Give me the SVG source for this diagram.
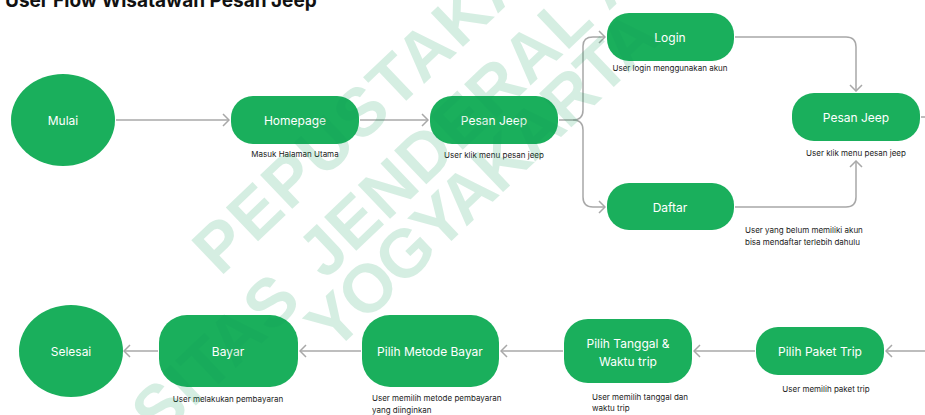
<svg xmlns="http://www.w3.org/2000/svg" width="925" height="415" viewBox="0 0 925 415">
<defs>
<style>
.node{fill:#1aaf5c}
.nt{fill:#ffffff;font-family:Inter,"Liberation Sans",sans-serif;font-size:12px;font-weight:400;text-anchor:middle;dominant-baseline:central}
.lb{fill:#222222;font-family:Inter,"Liberation Sans",sans-serif;font-size:8px}
.c{fill:none;stroke:#a8a8a8;stroke-width:1.5}
.wm{fill:#0f9d58;opacity:0.17;font-family:"Liberation Sans",Arial,sans-serif;font-weight:bold;font-size:68px}
</style>
<marker id="arr" viewBox="0 0 8 14" refX="7" refY="7" markerWidth="8" markerHeight="14" markerUnits="userSpaceOnUse" orient="auto">
<path d="M1,1 L7,7 L1,13" fill="none" stroke="#a8a8a8" stroke-width="1.5"/>
</marker>
</defs>
<rect width="925" height="415" fill="#ffffff"/>
<text x="5" y="7" font-family="Inter,'Liberation Sans',sans-serif" font-weight="bold" font-size="19" fill="#111111">User Flow Wisatawan Pesan Jeep</text>

<g id="connectors">
<path class="c" d="M116,120 H229" marker-end="url(#arr)"/>
<path class="c" d="M360,120 H428" marker-end="url(#arr)"/>
<path class="c" d="M559,120 H573 Q583,120 583,110 V46 Q583,37 593,37 H605" marker-end="url(#arr)"/>
<path class="c" d="M573,120 Q583,120 583,130 V197 Q583,207 593,207 H605" marker-end="url(#arr)"/>
<path class="c" d="M735,37 H846 Q856,37 856,47 V91" marker-end="url(#arr)"/>
<path class="c" d="M735,207 H846 Q856,207 856,197 V161" marker-end="url(#arr)"/>
<path class="c" d="M921,117 H940 V351 H886" marker-end="url(#arr)"/>
<path class="c" d="M755,351 H694" marker-end="url(#arr)"/>
<path class="c" d="M563,351 H501" marker-end="url(#arr)"/>
<path class="c" d="M361,351 H300" marker-end="url(#arr)"/>
<path class="c" d="M158,351 H124" marker-end="url(#arr)"/>
</g>

<g id="mulai">
<ellipse class="node" cx="63" cy="120" rx="52" ry="46"/>
<text class="nt" x="63" y="120">Mulai</text>
</g>
<g id="homepage">
<rect class="node" x="231" y="96" width="128" height="48" rx="22"/>
<text class="nt" x="295" y="120">Homepage</text>
<text class="lb" x="295" y="157" text-anchor="middle">Masuk Halaman Utama</text>
</g>
<g id="pesan-jeep-1">
<rect class="node" x="430" y="96" width="128" height="48" rx="22"/>
<text class="nt" x="494" y="120">Pesan Jeep</text>
<text class="lb" x="494" y="158" text-anchor="middle">User klik menu pesan jeep</text>
</g>
<g id="login">
<rect class="node" x="607" y="13" width="127" height="48" rx="22"/>
<text class="nt" x="670" y="37">Login</text>
<text class="lb" x="670" y="71" text-anchor="middle">User login menggunakan akun</text>
</g>
<g id="daftar">
<rect class="node" x="607" y="183" width="127" height="47" rx="22"/>
<text class="nt" x="670" y="207">Daftar</text>
<text class="lb" x="745" y="233">User yang belum memiliki akun</text>
<text class="lb" x="745" y="245">bisa mendaftar terlebih dahulu</text>
</g>
<g id="pesan-jeep-2">
<rect class="node" x="792" y="93" width="128" height="48" rx="22"/>
<text class="nt" x="856" y="117">Pesan Jeep</text>
<text class="lb" x="856" y="156" text-anchor="middle">User klik menu pesan jeep</text>
</g>
<g id="pilih-paket-trip">
<rect class="node" x="756" y="327" width="128" height="48" rx="22"/>
<text class="nt" x="820" y="351">Pilih Paket Trip</text>
<text class="lb" x="826" y="392" text-anchor="middle">User memilih paket trip</text>
</g>
<g id="pilih-tanggal">
<rect class="node" x="564" y="319" width="128" height="64" rx="24"/>
<text class="nt" x="628" y="343">Pilih Tanggal &amp;</text>
<text class="nt" x="628" y="361">Waktu trip</text>
<text class="lb" x="592" y="400">User memilih tanggal dan</text>
<text class="lb" x="592" y="411">waktu trip</text>
</g>
<g id="pilih-metode-bayar">
<rect class="node" x="362" y="315" width="137" height="72" rx="28"/>
<text class="nt" x="430" y="351">Pilih Metode Bayar</text>
<text class="lb" x="372" y="401">User memilih metode pembayaran</text>
<text class="lb" x="372" y="413">yang diinginkan</text>
</g>
<g id="bayar">
<rect class="node" x="159" y="315" width="139" height="72" rx="28"/>
<text class="nt" x="228" y="351">Bayar</text>
<text class="lb" x="228" y="402" text-anchor="middle">User melakukan pembayaran</text>
</g>
<g id="selesai">
<ellipse class="node" cx="71" cy="351" rx="52" ry="46"/>
<text class="nt" x="71" y="351">Selesai</text>
</g>

<g id="watermark">
<text class="wm" letter-spacing="2" transform="translate(220.3,277.2) rotate(-43.5)">PEPUSTAKA</text>
<text class="wm" letter-spacing="1" text-anchor="end" transform="translate(304.2,302.9) rotate(-43.5)">SITAS</text>
<text class="wm" letter-spacing="1" transform="translate(324.9,280.7) rotate(-43.5)">JENDERAL A</text>
<text class="wm" letter-spacing="-2" transform="translate(333.3,353.2) rotate(-43.5)">YOGYAKARTA</text>
</g>
</svg>
